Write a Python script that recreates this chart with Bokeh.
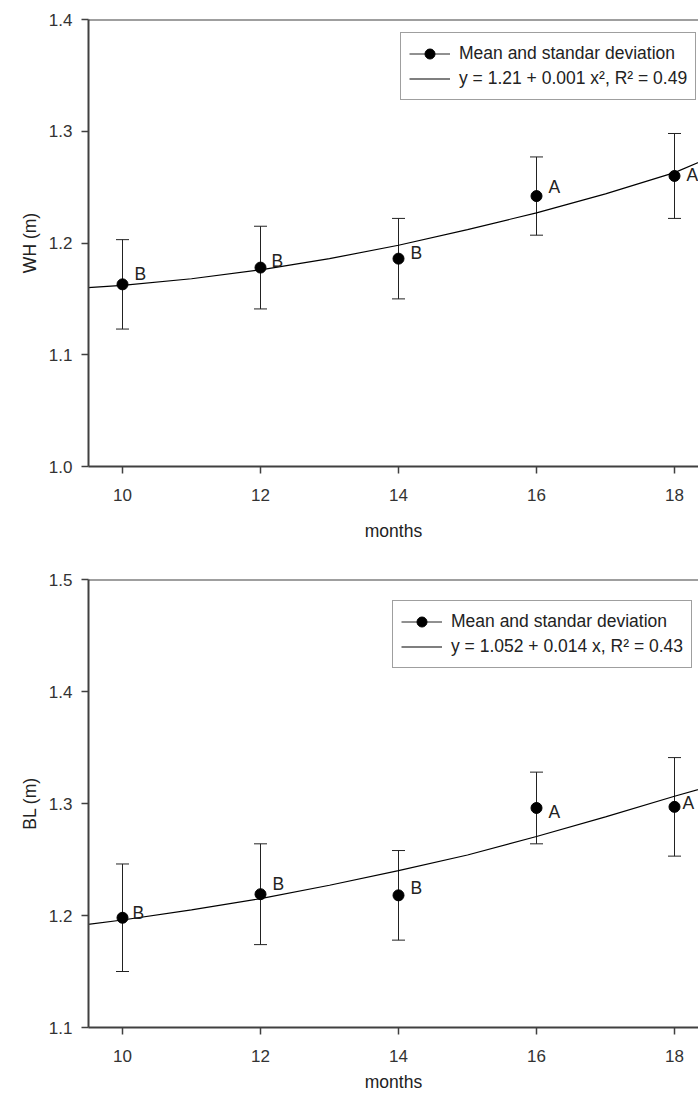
from bokeh.plotting import figure
from bokeh.layouts import column
from bokeh.models import (ColumnDataSource, Whisker, TeeHead, FixedTicker, PrintfTickFormatter,
                          Range1d, Legend, LegendItem, Span)
from bokeh.embed import file_html
from bokeh.resources import INLINE
from bokeh.core.properties import value

# ---------------- data ----------------
months = [10, 12, 14, 16, 18]

wh_mean = [1.163, 1.178, 1.186, 1.242, 1.260]
wh_sd = [0.040, 0.037, 0.036, 0.035, 0.038]
wh_group = ["B", "B", "B", "A", "A"]

bl_mean = [1.198, 1.219, 1.218, 1.296, 1.297]
bl_sd = [0.048, 0.045, 0.040, 0.032, 0.044]
bl_group = ["B", "B", "B", "A", "A"]

fit_x = [9.5, 10, 11, 12, 13, 14, 15, 16, 17, 18, 18.5]
wh_fit = [1.160, 1.162, 1.168, 1.176, 1.186, 1.198, 1.212, 1.227, 1.244, 1.263, 1.276]
bl_fit = [1.192, 1.196, 1.205, 1.215, 1.227, 1.240, 1.254, 1.2705, 1.288, 1.3065, 1.315]

x_ticks = [10, 12, 14, 16, 18]
wh_ticks = [1.0, 1.1, 1.2, 1.3, 1.4]
bl_ticks = [1.1, 1.2, 1.3, 1.4, 1.5]

wh_legend = ["Mean and standar deviation", "y = 1.21 + 0.001 x\u00b2, R\u00b2 = 0.49"]
bl_legend = ["Mean and standar deviation", "y = 1.052 + 0.014 x, R\u00b2 = 0.43"]

# ---------------- style ----------------
FONT = "Liberation Sans"
AX = "#404040"
INK = "#222222"

# letter offsets (screen px) per point
wh_dx = [12, 11, 12, 12, 12]
wh_dy = [-10, -7, -6, -9, -1]
bl_dx = [10, 12, 12, 12, 8]
bl_dy = [-5, -10, -7, 4, -4]


def panel(y_lo, y_hi, yticks, mean, sd, groups, fit, ylabel, legend_texts, leg_loc,
          dx, dy, height, border_top, border_bottom, lab_standoff, axlab_standoff):
    p = figure(width=698, height=height, output_backend="svg", toolbar_location=None,
               x_range=Range1d(9.5072, 18.3478), y_range=Range1d(y_lo, y_hi),
               min_border_left=88, min_border_right=0, min_border_top=border_top,
               min_border_bottom=border_bottom)
    p.outline_line_color = None
    p.grid.visible = False
    p.background_fill_color = "white"
    p.border_fill_color = "white"

    for ax in (p.xaxis[0], p.yaxis[0]):
        ax.axis_line_color = AX
        ax.axis_line_width = 2
        ax.major_tick_line_color = AX
        ax.major_tick_line_width = 1.5
        ax.major_tick_out = 7
        ax.major_tick_in = 0
        ax.minor_tick_line_color = None
        ax.major_label_text_font = FONT
        ax.major_label_text_font_size = "17px"
        ax.major_label_text_color = "#333333"
        ax.axis_label_text_font = FONT
        ax.axis_label_text_font_size = "17.5px"
        ax.axis_label_text_font_style = "normal"
        ax.axis_label_text_color = INK

    p.xaxis.ticker = FixedTicker(ticks=x_ticks)
    p.xaxis.formatter = PrintfTickFormatter(format="%d")
    p.xaxis.axis_label = "months"
    p.xaxis.major_label_standoff = lab_standoff
    p.xaxis.axis_label_standoff = axlab_standoff

    p.yaxis.ticker = FixedTicker(ticks=yticks)
    p.yaxis.formatter = PrintfTickFormatter(format="%.1f")
    p.yaxis.axis_label = ylabel
    p.yaxis.major_label_standoff = 9
    p.yaxis.axis_label_standoff = 6

    p.add_layout(Span(location=y_hi, dimension="width", line_color=AX, line_width=2))

    src = ColumnDataSource(dict(
        x=months, mean=mean,
        lower=[m - s for m, s in zip(mean, sd)],
        upper=[m + s for m, s in zip(mean, sd)],
        grp=groups, dx=dx, dy=dy))

    w = Whisker(base="x", lower="lower", upper="upper", source=src,
                line_color=INK, line_width=1,
                upper_head=TeeHead(size=13, line_color=INK, line_width=1),
                lower_head=TeeHead(size=13, line_color=INK, line_width=1))
    p.add_layout(w)

    curve = p.line(fit_x, fit, line_color="black", line_width=1.2)
    pts = p.scatter(x="x", y="mean", source=src, size=11, color="black")
    p.text(x="x", y="mean", text="grp", source=src, x_offset="dx", y_offset="dy",
           text_font=value(FONT), text_font_size="17.5px", text_baseline="middle",
           text_align="left", text_color=INK)

    # legend-only sample of the error bar (no visible data)
    nan = float("nan")
    seg = p.segment(x0=[nan], y0=[nan], x1=[nan], y1=[nan], line_color=INK, line_width=1)

    legend = Legend(items=[LegendItem(label=legend_texts[0], renderers=[seg, pts]),
                           LegendItem(label=legend_texts[1], renderers=[curve])],
                    location=leg_loc, glyph_width=41, glyph_height=25, label_standoff=9,
                    padding=8, spacing=0, label_height=20, margin=0,
                    label_text_font=FONT, label_text_font_size="17.5px",
                    label_text_color=INK, border_line_color=AX, border_line_width=1.5,
                    background_fill_color="white", background_fill_alpha=1.0)
    p.add_layout(legend)
    return p


p1 = panel(1.0, 1.4, wh_ticks, wh_mean, wh_sd, wh_group, wh_fit, "WH (m)", wh_legend,
           (312, 366), wh_dx, wh_dy, 568, 19, 102, 15, 17)
p2 = panel(1.1, 1.5, bl_ticks, bl_mean, bl_sd, bl_group, bl_fit, "BL (m)", bl_legend,
           (304, 359), bl_dx, bl_dy, 529, 11, 70, 15, 7)

layout = column(p1, p2)
open("out.html", "w").write(file_html(layout, INLINE, title="WH and BL by months"))
